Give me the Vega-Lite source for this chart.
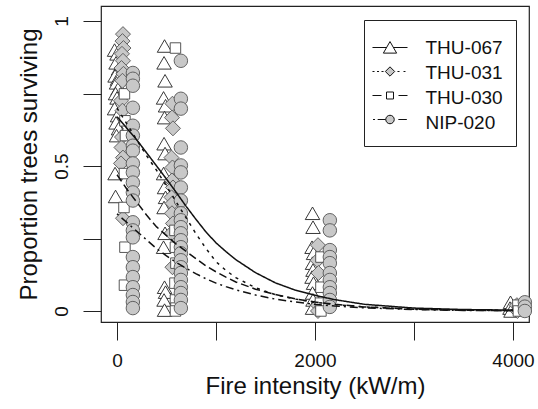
{
  "$schema": "https://vega.github.io/schema/vega-lite/v6.json",
  "autosize": {"type": "none"},
  "width": 428,
  "height": 316,
  "padding": {"left": 101, "top": 6, "right": 9, "bottom": 87},
  "background": "white",
  "config": {
    "font": "Liberation Sans",
    "view": {"stroke": "#222", "strokeWidth": 1.2},
    "axis": {"grid": false, "domain": false, "tickColor": "#222", "tickSize": 18, "tickWidth": 1,
      "labelFont": "Liberation Sans", "labelFontSize": 19, "labelColor": "#111",
      "titleFont": "Liberation Sans", "titleFontSize": 24, "titleFontWeight": "normal", "titleColor": "#111",
      "labelFlush": false, "labelOverlap": false}
  },
  "resolve": {"scale": {"opacity": "independent"}, "legend": {"opacity": "independent"}},
  "datasets": {
    "points": [
      {"s":"THU-067","x":-25,"y":0.90},{"s":"THU-067","x":0,"y":0.887},{"s":"THU-067","x":-10,"y":0.856},{"s":"THU-067","x":15,"y":0.835},{"s":"THU-067","x":-20,"y":0.811},{"s":"THU-067","x":5,"y":0.80},{"s":"THU-067","x":-5,"y":0.787},{"s":"THU-067","x":10,"y":0.766},{"s":"THU-067","x":-15,"y":0.75},{"s":"THU-067","x":0,"y":0.735},{"s":"THU-067","x":20,"y":0.718},{"s":"THU-067","x":-25,"y":0.698},{"s":"THU-067","x":5,"y":0.674},{"s":"THU-067","x":-10,"y":0.649},{"s":"THU-067","x":15,"y":0.629},{"s":"THU-067","x":-5,"y":0.605},{"s":"THU-067","x":-20,"y":0.474},{"s":"THU-067","x":-15,"y":0.395},
      {"s":"THU-067","x":480,"y":0.914},{"s":"THU-067","x":475,"y":0.856},{"s":"THU-067","x":485,"y":0.794},{"s":"THU-067","x":470,"y":0.735},{"s":"THU-067","x":490,"y":0.708},{"s":"THU-067","x":480,"y":0.667},{"s":"THU-067","x":475,"y":0.577},{"s":"THU-067","x":485,"y":0.543},{"s":"THU-067","x":470,"y":0.474},{"s":"THU-067","x":480,"y":0.426},{"s":"THU-067","x":490,"y":0.392},{"s":"THU-067","x":475,"y":0.357},{"s":"THU-067","x":485,"y":0.268},{"s":"THU-067","x":470,"y":0.220},{"s":"THU-067","x":480,"y":0.082},{"s":"THU-067","x":490,"y":0.065},{"s":"THU-067","x":475,"y":0.038},{"s":"THU-067","x":480,"y":0.003},
      {"s":"THU-067","x":1975,"y":0.337},{"s":"THU-067","x":1980,"y":0.289},{"s":"THU-067","x":1970,"y":0.220},{"s":"THU-067","x":1985,"y":0.199},{"s":"THU-067","x":1975,"y":0.165},{"s":"THU-067","x":1980,"y":0.141},{"s":"THU-067","x":1970,"y":0.117},{"s":"THU-067","x":1985,"y":0.096},{"s":"THU-067","x":1975,"y":0.062},{"s":"THU-067","x":1980,"y":0.038},{"s":"THU-067","x":1975,"y":0.010},
      {"s":"THU-067","x":3975,"y":0.03},{"s":"THU-067","x":3970,"y":0.01},{"s":"THU-067","x":3980,"y":0.0},
      {"s":"THU-031","x":60,"y":0.955},{"s":"THU-031","x":55,"y":0.931},{"s":"THU-031","x":65,"y":0.907},{"s":"THU-031","x":50,"y":0.887},{"s":"THU-031","x":60,"y":0.863},{"s":"THU-031","x":45,"y":0.838},{"s":"THU-031","x":65,"y":0.818},{"s":"THU-031","x":55,"y":0.794},{"s":"THU-031","x":40,"y":0.725},{"s":"THU-031","x":55,"y":0.691},{"s":"THU-031","x":50,"y":0.60},{"s":"THU-031","x":45,"y":0.564},{"s":"THU-031","x":60,"y":0.529},{"s":"THU-031","x":40,"y":0.509},{"s":"THU-031","x":60,"y":0.32},
      {"s":"THU-031","x":560,"y":0.715},{"s":"THU-031","x":555,"y":0.667},{"s":"THU-031","x":565,"y":0.63},{"s":"THU-031","x":550,"y":0.529},{"s":"THU-031","x":560,"y":0.495},{"s":"THU-031","x":555,"y":0.450},{"s":"THU-031","x":565,"y":0.426},{"s":"THU-031","x":550,"y":0.392},{"s":"THU-031","x":560,"y":0.371},{"s":"THU-031","x":555,"y":0.337},{"s":"THU-031","x":565,"y":0.302},{"s":"THU-031","x":550,"y":0.268},{"s":"THU-031","x":560,"y":0.151},
      {"s":"THU-031","x":2030,"y":0.227},{"s":"THU-031","x":2025,"y":0.175},{"s":"THU-031","x":2035,"y":0.131},{"s":"THU-031","x":2030,"y":0.02},{"s":"THU-031","x":2030,"y":0.0},
      {"s":"THU-031","x":4040,"y":0.02},{"s":"THU-031","x":4045,"y":0.0},
      {"s":"THU-030","x":75,"y":0.749},{"s":"THU-030","x":80,"y":0.656},{"s":"THU-030","x":85,"y":0.605},{"s":"THU-030","x":75,"y":0.474},{"s":"THU-030","x":70,"y":0.357},{"s":"THU-030","x":80,"y":0.22},{"s":"THU-030","x":75,"y":0.089},
      {"s":"THU-030","x":590,"y":0.907},{"s":"THU-030","x":585,"y":0.278},{"s":"THU-030","x":590,"y":0.220},{"s":"THU-030","x":595,"y":0.165},{"s":"THU-030","x":585,"y":0.096},{"s":"THU-030","x":590,"y":0.038},{"s":"THU-030","x":595,"y":0.01},{"s":"THU-030","x":590,"y":0.0},
      {"s":"THU-030","x":2060,"y":0.186},{"s":"THU-030","x":2060,"y":0.082},{"s":"THU-030","x":2055,"y":0.027},{"s":"THU-030","x":2060,"y":0.0},
      {"s":"THU-030","x":4050,"y":0.02},{"s":"THU-030","x":4055,"y":0.0},
      {"s":"NIP-020","x":160,"y":0.821},{"s":"NIP-020","x":160,"y":0.801},{"s":"NIP-020","x":160,"y":0.777},{"s":"NIP-020","x":160,"y":0.701},{"s":"NIP-020","x":160,"y":0.639},{"s":"NIP-020","x":160,"y":0.605},{"s":"NIP-020","x":160,"y":0.570},{"s":"NIP-020","x":160,"y":0.553},{"s":"NIP-020","x":160,"y":0.509},{"s":"NIP-020","x":160,"y":0.478},{"s":"NIP-020","x":160,"y":0.443},{"s":"NIP-020","x":160,"y":0.409},{"s":"NIP-020","x":160,"y":0.381},{"s":"NIP-020","x":160,"y":0.306},{"s":"NIP-020","x":160,"y":0.278},{"s":"NIP-020","x":160,"y":0.254},{"s":"NIP-020","x":160,"y":0.186},{"s":"NIP-020","x":160,"y":0.151},{"s":"NIP-020","x":160,"y":0.117},{"s":"NIP-020","x":160,"y":0.082},{"s":"NIP-020","x":160,"y":0.055},{"s":"NIP-020","x":160,"y":0.031},{"s":"NIP-020","x":160,"y":0.010},
      {"s":"NIP-020","x":645,"y":0.863},{"s":"NIP-020","x":645,"y":0.732},{"s":"NIP-020","x":645,"y":0.698},{"s":"NIP-020","x":645,"y":0.564},{"s":"NIP-020","x":645,"y":0.502},{"s":"NIP-020","x":645,"y":0.478},{"s":"NIP-020","x":645,"y":0.426},{"s":"NIP-020","x":645,"y":0.381},{"s":"NIP-020","x":645,"y":0.337},{"s":"NIP-020","x":645,"y":0.313},{"s":"NIP-020","x":645,"y":0.289},{"s":"NIP-020","x":645,"y":0.268},{"s":"NIP-020","x":645,"y":0.244},{"s":"NIP-020","x":645,"y":0.220},{"s":"NIP-020","x":645,"y":0.199},{"s":"NIP-020","x":645,"y":0.175},{"s":"NIP-020","x":645,"y":0.151},{"s":"NIP-020","x":645,"y":0.131},{"s":"NIP-020","x":645,"y":0.107},{"s":"NIP-020","x":645,"y":0.082},{"s":"NIP-020","x":645,"y":0.062},{"s":"NIP-020","x":645,"y":0.038},{"s":"NIP-020","x":645,"y":0.010},
      {"s":"NIP-020","x":2150,"y":0.313},{"s":"NIP-020","x":2150,"y":0.278},{"s":"NIP-020","x":2150,"y":0.210},{"s":"NIP-020","x":2150,"y":0.186},{"s":"NIP-020","x":2150,"y":0.165},{"s":"NIP-020","x":2150,"y":0.131},{"s":"NIP-020","x":2150,"y":0.107},{"s":"NIP-020","x":2150,"y":0.082},{"s":"NIP-020","x":2150,"y":0.062},{"s":"NIP-020","x":2150,"y":0.038},{"s":"NIP-020","x":2150,"y":0.014},
      {"s":"NIP-020","x":4120,"y":0.03},{"s":"NIP-020","x":4120,"y":0.015},{"s":"NIP-020","x":4120,"y":0.0}
    ],
    "curves": [
      {"s":"THU-067","x":0,"p":0.67},{"s":"THU-067","x":100,"p":0.63},{"s":"THU-067","x":200,"p":0.59},{"s":"THU-067","x":300,"p":0.545},{"s":"THU-067","x":400,"p":0.50},{"s":"THU-067","x":500,"p":0.455},{"s":"THU-067","x":600,"p":0.408},{"s":"THU-067","x":700,"p":0.36},{"s":"THU-067","x":800,"p":0.315},{"s":"THU-067","x":900,"p":0.272},{"s":"THU-067","x":1000,"p":0.235},{"s":"THU-067","x":1100,"p":0.205},{"s":"THU-067","x":1200,"p":0.177},{"s":"THU-067","x":1400,"p":0.132},{"s":"THU-067","x":1600,"p":0.097},{"s":"THU-067","x":1800,"p":0.072},{"s":"THU-067","x":2000,"p":0.054},{"s":"THU-067","x":2200,"p":0.039},{"s":"THU-067","x":2500,"p":0.023},{"s":"THU-067","x":3000,"p":0.01},{"s":"THU-067","x":3500,"p":0.005},{"s":"THU-067","x":4000,"p":0.003},
      {"s":"THU-031","x":0,"p":0.70},{"s":"THU-031","x":100,"p":0.645},{"s":"THU-031","x":200,"p":0.59},{"s":"THU-031","x":300,"p":0.535},{"s":"THU-031","x":400,"p":0.485},{"s":"THU-031","x":500,"p":0.43},{"s":"THU-031","x":600,"p":0.375},{"s":"THU-031","x":700,"p":0.32},{"s":"THU-031","x":800,"p":0.265},{"s":"THU-031","x":900,"p":0.215},{"s":"THU-031","x":1000,"p":0.17},{"s":"THU-031","x":1100,"p":0.14},{"s":"THU-031","x":1200,"p":0.115},{"s":"THU-031","x":1400,"p":0.08},{"s":"THU-031","x":1600,"p":0.056},{"s":"THU-031","x":1800,"p":0.041},{"s":"THU-031","x":2000,"p":0.03},{"s":"THU-031","x":2200,"p":0.022},{"s":"THU-031","x":2500,"p":0.014},{"s":"THU-031","x":3000,"p":0.007},{"s":"THU-031","x":3500,"p":0.003},{"s":"THU-031","x":4000,"p":0.002},
      {"s":"THU-030","x":0,"p":0.47},{"s":"THU-030","x":100,"p":0.42},{"s":"THU-030","x":200,"p":0.375},{"s":"THU-030","x":300,"p":0.33},{"s":"THU-030","x":400,"p":0.29},{"s":"THU-030","x":500,"p":0.26},{"s":"THU-030","x":600,"p":0.23},{"s":"THU-030","x":700,"p":0.205},{"s":"THU-030","x":800,"p":0.18},{"s":"THU-030","x":900,"p":0.155},{"s":"THU-030","x":1000,"p":0.135},{"s":"THU-030","x":1100,"p":0.117},{"s":"THU-030","x":1200,"p":0.10},{"s":"THU-030","x":1400,"p":0.075},{"s":"THU-030","x":1600,"p":0.057},{"s":"THU-030","x":1800,"p":0.042},{"s":"THU-030","x":2000,"p":0.031},{"s":"THU-030","x":2200,"p":0.023},{"s":"THU-030","x":2500,"p":0.014},{"s":"THU-030","x":3000,"p":0.006},{"s":"THU-030","x":3500,"p":0.003},{"s":"THU-030","x":4000,"p":0.001},
      {"s":"NIP-020","x":0,"p":0.335},{"s":"NIP-020","x":100,"p":0.305},{"s":"NIP-020","x":200,"p":0.275},{"s":"NIP-020","x":300,"p":0.245},{"s":"NIP-020","x":400,"p":0.215},{"s":"NIP-020","x":500,"p":0.19},{"s":"NIP-020","x":600,"p":0.167},{"s":"NIP-020","x":700,"p":0.147},{"s":"NIP-020","x":800,"p":0.128},{"s":"NIP-020","x":900,"p":0.111},{"s":"NIP-020","x":1000,"p":0.096},{"s":"NIP-020","x":1100,"p":0.084},{"s":"NIP-020","x":1200,"p":0.073},{"s":"NIP-020","x":1400,"p":0.055},{"s":"NIP-020","x":1600,"p":0.041},{"s":"NIP-020","x":1800,"p":0.031},{"s":"NIP-020","x":2000,"p":0.023},{"s":"NIP-020","x":2200,"p":0.017},{"s":"NIP-020","x":2500,"p":0.011},{"s":"NIP-020","x":3000,"p":0.005},{"s":"NIP-020","x":3500,"p":0.002},{"s":"NIP-020","x":4000,"p":0.001}
    ]
  },
  "layer": [
    {
      "data": {"name": "points"},
      "transform": [{"filter": "datum.s === 'THU-067'"}],
      "mark": {"type": "point", "shape": "triangle-up", "size": 210, "filled": true, "fill": "#ffffff", "stroke": "#222222", "strokeWidth": 0.9, "opacity": 1},
      "encoding": {
        "x": {"field": "x", "type": "quantitative", "scale": {"domain": [-162, 4162], "nice": false, "zero": false},
          "axis": {"title": "Fire intensity (kW/m)", "values": [0, 1000, 2000, 3000, 4000], "format": "d",
            "labelExpr": "datum.value % 2000 === 0 ? datum.label : ''", "labelPadding": 11, "titlePadding": 4}},
        "y": {"field": "y", "type": "quantitative", "scale": {"domain": [-0.038, 1.052], "nice": false, "zero": false},
          "axis": {"title": "Proportion trees surviving", "values": [0, 0.25, 0.5, 0.75, 1], "format": "~g",
            "labelExpr": "datum.value === 0.25 || datum.value === 0.75 ? '' : datum.label",
            "labelAngle": -90, "labelAlign": "center", "labelBaseline": "alphabetic", "labelPadding": 16, "titlePadding": 11}}
      }
    },
    {
      "data": {"name": "points"},
      "transform": [{"filter": "datum.s === 'THU-031'"}],
      "mark": {"type": "point", "shape": "diamond", "size": 225, "filled": true, "fill": "#c8c8c8", "stroke": "#555555", "strokeWidth": 0.9, "opacity": 1},
      "encoding": {"x": {"field": "x", "type": "quantitative"}, "y": {"field": "y", "type": "quantitative"}}
    },
    {
      "data": {"name": "points"},
      "transform": [{"filter": "datum.s === 'THU-030'"}],
      "mark": {"type": "point", "shape": "square", "size": 110, "filled": true, "fill": "#ffffff", "stroke": "#444444", "strokeWidth": 0.9, "opacity": 1},
      "encoding": {"x": {"field": "x", "type": "quantitative"}, "y": {"field": "y", "type": "quantitative"}}
    },
    {
      "data": {"name": "points"},
      "transform": [{"filter": "datum.s === 'NIP-020'"}],
      "mark": {"type": "point", "shape": "circle", "size": 182, "filled": true, "fill": "#c8c8c8", "stroke": "#555555", "strokeWidth": 0.9, "opacity": 1},
      "encoding": {"x": {"field": "x", "type": "quantitative"}, "y": {"field": "y", "type": "quantitative"}}
    },
    {
      "data": {"name": "curves"},
      "mark": {"type": "line", "color": "#111111", "strokeWidth": 1.5},
      "encoding": {
        "x": {"field": "x", "type": "quantitative"},
        "y": {"field": "p", "type": "quantitative"},
        "strokeDash": {"field": "s", "type": "nominal",
          "scale": {"domain": ["THU-067","THU-031","THU-030","NIP-020"], "range": [[1,0],[3,5],[8,4],[2,4,8,4]]},
          "legend": {
            "title": " ", "titleFontSize": 5, "titlePadding": 0,
            "orient": "none", "legendX": 263, "legendY": 14,
            "strokeColor": "#222", "fillColor": "white", "padding": 13,
            "symbolSize": 289, "symbolStrokeWidth": 1, "symbolOffset": 3.5, "symbolOpacity": 0,
            "labelOffset": 26, "labelFont": "Liberation Sans", "labelFontSize": 19, "labelColor": "#111", "rowPadding": 5
          }
        }
      }
    },
    {
      "data": {"name": "points"},
      "transform": [{"filter": "false"}],
      "mark": {"type": "point", "shape": "M-2.06,0H-0.4M0.4,0H2.06M0,-0.7L0.78,0.66L-0.78,0.66Z", "filled": true, "fill": "#ffffff", "stroke": "#111111", "strokeWidth": 1},
      "encoding": {"x": {"field": "x", "type": "quantitative"}, "y": {"field": "y", "type": "quantitative"},
        "opacity": {"field": "s", "type": "nominal", "scale": {"domain": ["THU-067"], "range": [1, 1]},
          "legend": {"title": null, "orient": "none", "legendX": 280, "legendY": 32.5, "padding": 0,
            "symbolSize": 289, "symbolStrokeWidth": 1, "labelExpr": "''", "labelFontSize": 1, "labelOffset": 0}}}
    },
    {
      "data": {"name": "points"},
      "transform": [{"filter": "false"}],
      "mark": {"type": "point", "shape": "M-2.06,0H-1.82M-1.53,0H-1.29M-1,0H-0.76M0.88,0H1.12M1.59,0H1.82M-0.55,0L0,-0.55L0.55,0L0,0.55Z", "filled": true, "fill": "#c8c8c8", "stroke": "#111111", "strokeWidth": 1},
      "encoding": {"x": {"field": "x", "type": "quantitative"}, "y": {"field": "y", "type": "quantitative"},
        "opacity": {"field": "s", "type": "nominal", "scale": {"domain": ["THU-031"], "range": [1, 1]},
          "legend": {"title": null, "orient": "none", "legendX": 280, "legendY": 56.5, "padding": 0,
            "symbolSize": 289, "symbolStrokeWidth": 1, "labelExpr": "''", "labelFontSize": 1, "labelOffset": 0}}}
    },
    {
      "data": {"name": "points"},
      "transform": [{"filter": "false"}],
      "mark": {"type": "point", "shape": "M-2.06,0H-1M1,0H2.06M-0.41,-0.41H0.41V0.41H-0.41Z", "filled": true, "fill": "#ffffff", "stroke": "#111111", "strokeWidth": 1},
      "encoding": {"x": {"field": "x", "type": "quantitative"}, "y": {"field": "y", "type": "quantitative"},
        "opacity": {"field": "s", "type": "nominal", "scale": {"domain": ["THU-030"], "range": [1, 1]},
          "legend": {"title": null, "orient": "none", "legendX": 280, "legendY": 80.5, "padding": 0,
            "symbolSize": 289, "symbolStrokeWidth": 1, "labelExpr": "''", "labelFontSize": 1, "labelOffset": 0}}}
    },
    {
      "data": {"name": "points"},
      "transform": [{"filter": "false"}],
      "mark": {"type": "point", "shape": "M-2,0H-1.76M-1.45,0H-0.5M0.98,0H1.98M0.5,0A0.5,0.5 0 1,1 -0.5,0A0.5,0.5 0 1,1 0.5,0Z", "filled": true, "fill": "#c8c8c8", "stroke": "#111111", "strokeWidth": 1},
      "encoding": {"x": {"field": "x", "type": "quantitative"}, "y": {"field": "y", "type": "quantitative"},
        "opacity": {"field": "s", "type": "nominal", "scale": {"domain": ["NIP-020"], "range": [1, 1]},
          "legend": {"title": null, "orient": "none", "legendX": 280, "legendY": 104.5, "padding": 0,
            "symbolSize": 289, "symbolStrokeWidth": 1, "labelExpr": "''", "labelFontSize": 1, "labelOffset": 0}}}
    }
  ]
}
